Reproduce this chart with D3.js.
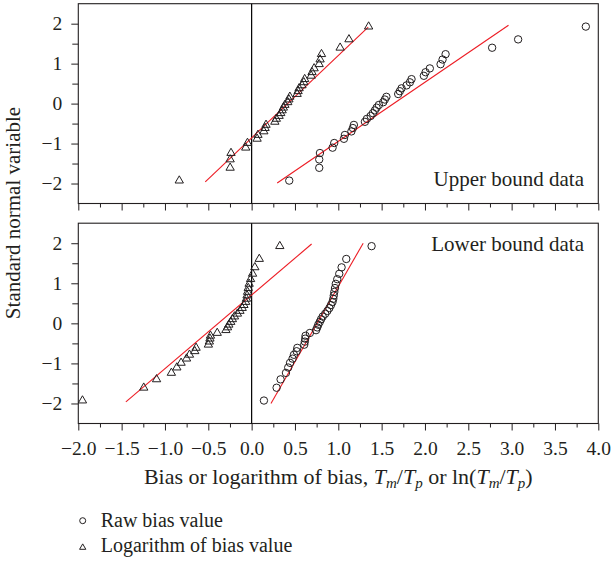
<!DOCTYPE html>
<html>
<head>
<meta charset="utf-8">
<script src="https://cdn.jsdelivr.net/npm/d3@7"></script>
<style>
  html, body { margin: 0; padding: 0; background: #fff; }
  svg { display: block; }
  text { font-family: "Liberation Serif", "DejaVu Serif", serif; fill: #231f20; }
</style>
</head>
<body>
<script>
// Normal probability plots of the bias T_m/T_p (raw and log-transformed)
// for the upper-bound and lower-bound data sets.

// Standard normal plotting positions shared by all four series (36 ranks)
const zScores = [-1.927, -1.607, -1.398, -1.237, -1.103, -0.986, -0.881, -0.785, -0.696,
  -0.612, -0.533, -0.456, -0.382, -0.310, -0.240, -0.170, -0.102, -0.034,
  0.034, 0.102, 0.170, 0.240, 0.310, 0.382, 0.456, 0.533, 0.612, 0.696,
  0.785, 0.881, 0.986, 1.103, 1.237, 1.398, 1.607, 1.927];

// Upper bound data: raw bias, ranked
const upperRaw = [0.434, 0.780, 0.780, 0.788, 0.934, 0.953, 1.065, 1.076, 1.151,
  1.168, 1.180, 1.307, 1.330, 1.373, 1.399, 1.422, 1.442, 1.468,
  1.518, 1.537, 1.555, 1.691, 1.710, 1.730, 1.788, 1.826, 1.845,
  1.987, 2.007, 2.056, 2.180, 2.203, 2.238, 2.775, 3.075, 3.856];
// Upper bound data: logarithm of bias
const upperLog = [-0.835, -0.248, -0.248, -0.238, -0.068, -0.048, 0.063, 0.073, 0.141,
  0.155, 0.166, 0.268, 0.285, 0.317, 0.336, 0.352, 0.366, 0.384,
  0.417, 0.430, 0.441, 0.525, 0.536, 0.548, 0.581, 0.602, 0.612,
  0.687, 0.697, 0.721, 0.779, 0.790, 0.806, 1.021, 1.123, 1.350];

// Lower bound data: raw bias, ranked
const lowerRaw = [0.142, 0.288, 0.334, 0.396, 0.422, 0.443, 0.472, 0.488, 0.519,
  0.527, 0.607, 0.614, 0.618, 0.622, 0.672, 0.743, 0.757, 0.769,
  0.786, 0.801, 0.820, 0.849, 0.874, 0.897, 0.915, 0.933, 0.942,
  0.948, 0.954, 0.962, 0.971, 0.988, 1.011, 1.038, 1.092, 1.384];
// Lower bound data: logarithm of bias
const lowerLog = [-1.952, -1.245, -1.097, -0.926, -0.863, -0.814, -0.751, -0.717, -0.656,
  -0.641, -0.499, -0.488, -0.481, -0.475, -0.397, -0.297, -0.278, -0.263,
  -0.241, -0.222, -0.198, -0.164, -0.135, -0.109, -0.089, -0.069, -0.060,
  -0.053, -0.047, -0.039, -0.029, -0.012, 0.011, 0.037, 0.088, 0.325];

// Fitted normal lines, as [bias, z] end points
const upperRawFit = [[0.295, -1.985], [2.964, 1.960]];
const upperLogFit = [[-0.535, -1.960], [1.345, 1.915]];
const lowerRawFit = [[0.223, -2.000], [1.287, 2.000]];
const lowerLogFit = [[-1.451, -1.960], [0.692, 1.980]];

// Axis ticks
const xTicks = [-2.0, -1.5, -1.0, -0.5, 0.0, 0.5, 1.0, 1.5, 2.0, 2.5, 3.0, 3.5, 4.0];
const xMinorTicks = [-1.75, -1.25, -0.75, -0.25, 0.25, 0.75, 1.25, 1.75, 2.25, 2.75, 3.25, 3.75];
const yTicks = [-2, -1, 0, 1, 2];
const yMinorTicks = [-1.5, -0.5, 0.5, 1.5];

const panelTitles = ["Upper bound data", "Lower bound data"];
const legendLabels = ["Raw bias value", "Logarithm of bias value"];

const ink = "#231f20";
const fitRed = "#ed1c24";

const svg = d3.select("body").append("svg")
  .attr("width", 612).attr("height", 563);

const left = 78.3, right = 598.3;
const x = d3.scaleLinear().domain([-2, 4]).range([left, right]);

const panels = [
  { raw: upperRaw, log: upperLog, rawFit: upperRawFit, logFit: upperLogFit,
    title: panelTitles[0], top: 3.7, bottom: 203.5, labels: false, titleY: 186 },
  { raw: lowerRaw, log: lowerLog, rawFit: lowerRawFit, logFit: lowerLogFit,
    title: panelTitles[1], top: 223.2, bottom: 423.5, labels: true, titleY: 250.5 }
];

const triangle = d3.symbol().type(d3.symbolTriangle).size(30);
const smallTriangle = d3.symbol().type(d3.symbolTriangle).size(17);

panels.forEach(p => {
  const y = d3.scaleLinear().domain([-2.5, 2.5]).range([p.bottom, p.top]);
  const g = svg.append("g");

  // y axis: major and minor ticks
  g.append("g").attr("transform", `translate(${left},0)`)
    .call(d3.axisLeft(y).tickValues(yTicks).tickSize(7).tickPadding(9)
      .tickFormat(d3.format("d")));
  g.append("g").attr("transform", `translate(${left},0)`)
    .call(d3.axisLeft(y).tickValues(yMinorTicks).tickSize(6).tickFormat(""));

  // x axis at the bottom of the panel
  g.append("g").attr("transform", `translate(0,${p.bottom})`)
    .call(d3.axisBottom(x).tickValues(xTicks).tickSize(7).tickPadding(11)
      .tickFormat(p.labels ? d3.format(".1f") : ""));
  g.append("g").attr("transform", `translate(0,${p.bottom})`)
    .call(d3.axisBottom(x).tickValues(xMinorTicks).tickSize(4).tickFormat(""));

  g.selectAll(".domain").remove();
  g.selectAll(".tick line").attr("stroke", ink).attr("stroke-width", 1);
  g.selectAll(".tick text").attr("fill", ink)
    .style("font-family", '"Liberation Serif", serif').style("font-size", "19.5px");

  // panel frame
  g.append("rect")
    .attr("x", left).attr("y", p.top)
    .attr("width", right - left).attr("height", p.bottom - p.top)
    .attr("fill", "none").attr("stroke", ink).attr("stroke-width", 1.1);

  // zero-bias reference line
  g.append("line")
    .attr("x1", x(0)).attr("x2", x(0)).attr("y1", p.top).attr("y2", p.bottom)
    .attr("stroke", "#000").attr("stroke-width", 1.2);

  // fitted lines
  const line = d3.line().x(d => x(d[0])).y(d => y(d[1]));
  [p.rawFit, p.logFit].forEach(f => {
    g.append("path").attr("d", line(f))
      .attr("fill", "none").attr("stroke", fitRed).attr("stroke-width", 1.1);
  });

  // raw bias: circles
  g.append("g").selectAll("circle").data(p.raw).join("circle")
    .attr("cx", d => x(d)).attr("cy", (d, i) => y(zScores[i]))
    .attr("r", 3.7).attr("fill", "none").attr("stroke", ink).attr("stroke-width", 1);

  // log bias: triangles
  g.append("g").selectAll("path").data(p.log).join("path")
    .attr("d", triangle)
    .attr("transform", (d, i) => `translate(${x(d)},${y(zScores[i])})`)
    .attr("fill", "none").attr("stroke", ink).attr("stroke-width", 1);

  // panel title
  g.append("text").attr("x", 584).attr("y", p.titleY)
    .attr("text-anchor", "end").style("font-size", "21px").text(p.title);
});

// y-axis title
svg.append("text")
  .attr("transform", "translate(20,213) rotate(-90)")
  .attr("text-anchor", "middle").style("font-size", "21px")
  .text("Standard normal variable");

// x-axis title with italic T and subscripts
const xt = svg.append("text").attr("x", (left + right) / 2).attr("y", 484)
  .attr("text-anchor", "middle").style("font-size", "22px");
function ratio(t) {
  t.append("tspan").style("font-style", "italic").text("T");
  t.append("tspan").style("font-style", "italic").style("font-size", "15px").attr("dy", 4).text("m");
  t.append("tspan").attr("dy", -4).text("/");
  t.append("tspan").style("font-style", "italic").text("T");
  t.append("tspan").style("font-style", "italic").style("font-size", "15px").attr("dy", 4).text("p");
}
xt.append("tspan").text("Bias or logarithm of bias, ");
ratio(xt);
xt.append("tspan").attr("dy", -4).text(" or ln(");
ratio(xt);
xt.append("tspan").attr("dy", -4).text(")");

// legend
const lg = svg.append("g");
lg.append("circle").attr("cx", 82.7).attr("cy", 520.7).attr("r", 3)
  .attr("fill", "none").attr("stroke", ink).attr("stroke-width", 1);
lg.append("path").attr("d", smallTriangle).attr("transform", "translate(82.7,547.5)")
  .attr("fill", "none").attr("stroke", ink).attr("stroke-width", 1);
lg.append("text").attr("x", 100.7).attr("y", 526.5).style("font-size", "20px").text(legendLabels[0]);
lg.append("text").attr("x", 100.7).attr("y", 551.5).style("font-size", "20px").text(legendLabels[1]);
</script>
</body>
</html>
